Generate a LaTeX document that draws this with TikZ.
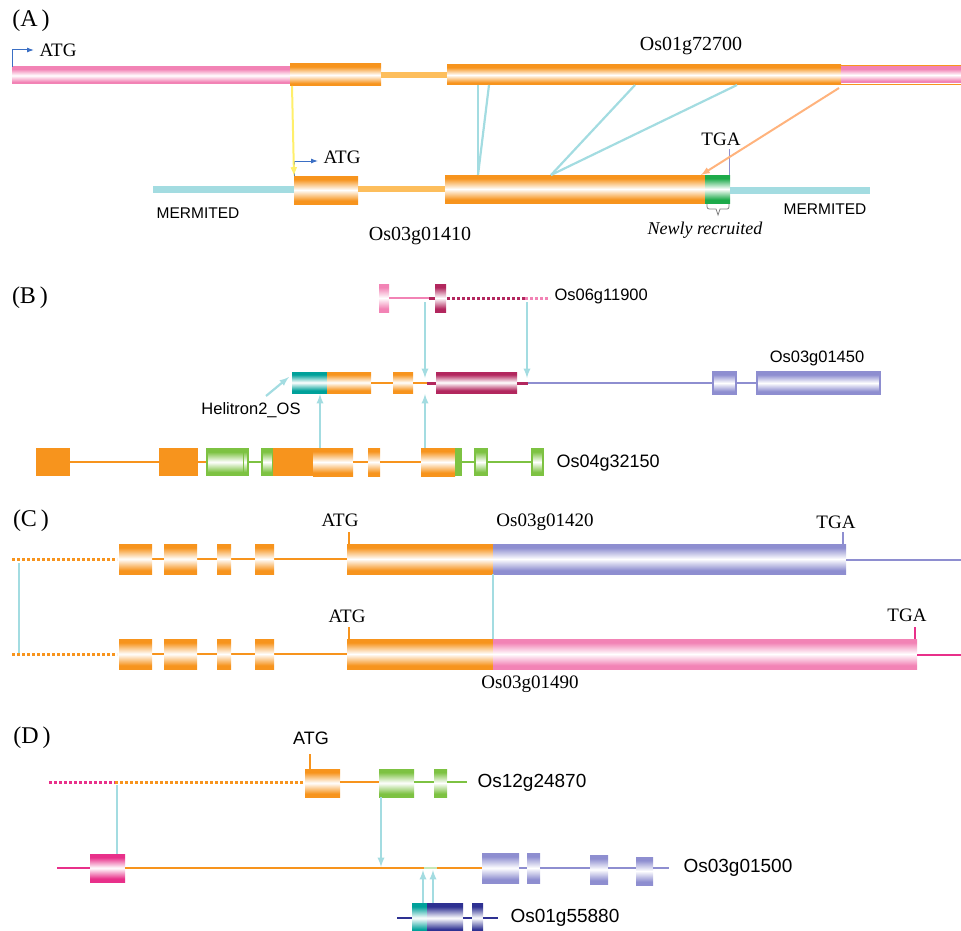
\documentclass[tikz,border=0pt]{standalone}
\usepackage{fontspec}
\setmainfont{Liberation Serif}
\setsansfont{Liberation Sans}
\usetikzlibrary{arrows.meta}

\definecolor{orng}{HTML}{F7941D}
\definecolor{lorng}{HTML}{FDBE5C}
\definecolor{porng}{HTML}{FFB37D}
\definecolor{pnk}{HTML}{F283B5}
\definecolor{mgnt}{HTML}{E8308A}
\definecolor{dmag}{HTML}{B2275E}
\definecolor{cyn}{HTML}{A3DCE1}
\definecolor{lav}{HTML}{8E8ED0}
\definecolor{teal}{HTML}{00A19A}
\definecolor{grn}{HTML}{7DC242}
\definecolor{lgrn}{HTML}{C6E8B8}
\definecolor{dgrn}{HTML}{1DAA4A}
\definecolor{dblu}{HTML}{2E3192}
\definecolor{atgblu}{HTML}{3B6FC4}
\definecolor{yel}{HTML}{FFEF6B}
\colorlet{exoncol}{orng}
\pgfdeclareverticalshading[exoncol]{exonsh}{100bp}{color(0bp)=(exoncol); color(31bp)=(exoncol);
    color(50bp)=(white); color(69bp)=(exoncol); color(100bp)=(exoncol)}

\begin{document}
\begin{tikzpicture}[x=1pt,y=-1pt,
    exon/.code={\colorlet{exoncol}{#1}\pgfkeysalso{shade, shading=exonsh}},
    bexon/.style={exon=#1, draw=#1, line width=1.5pt},
    link/.style={cyn, line width=2.2pt},
    atg/.style={atgblu, line width=1pt, -{Latex[length=7pt,width=5pt]}},
    serif/.style={font=\fontsize{#1}{#1}\selectfont}, serif/.default=19,
    sans/.style={font=\sffamily\fontsize{#1}{#1}\selectfont}, sans/.default=16.5,
    panel/.style={font=\fontsize{24}{26}\selectfont}]
    \useasboundingbox (0,0) rectangle (961,931);

    % (A)
    \node[panel] (pA) at (31,21) {(A\,)};
    \fill[exon=pnk] (12,67) rectangle (290,84);
    \fill[exon=orng] (290,64) rectangle (381,86);
    \draw[lorng, line width=6pt] (381,75) -- (447,75);
    \fill[exon=orng] (447,65) rectangle (841,85);
    \fill[exon=pnk] (841,67) rectangle (961,83);
    \draw[orng, line width=1.5pt] (841,65.5) -- (961,65.5) (841,84.5) -- (961,84.5);
    \draw[atg] (12,67) -- (12,50) -- (34,50);
    \node[serif, anchor=west] (atgA1) at (36,50) {ATG};
    \node[serif=20] (gA1) at (691,46) {Os01g72700};

    \draw[cyn, line width=7pt] (153,189.5) -- (294,189.5);
    \fill[exon=orng] (294,176) rectangle (358,204);
    \draw[lorng, line width=6pt] (358,189) -- (445,189);
    \fill[exon=orng] (445,175) rectangle (705,203);
    \fill[exon=dgrn] (705,175) rectangle (730,203);
    \draw[cyn, line width=7pt] (730,190) -- (870,190);
    \draw[atg] (294,176) -- (294,161) -- (318,161);
    \node[serif, anchor=west] (atgA2) at (320,157) {ATG};
    \draw[lav, line width=1pt] (729,175) -- (729,149);
    \node[serif] (tgaA) at (721,139) {TGA};
    \node[sans=15.5] (merL) at (198,213) {MERMITED};
    \node[sans=15.5] (merR) at (825,209) {MERMITED};
    \node[serif=20] (gA2) at (420,236) {Os03g01410};
    \draw[gray, line width=0.8pt] (707,204) .. controls (707,209) .. (712,209) -- (716,209)
        -- (718,215) -- (720,209) -- (725,209) .. controls (729,209) .. (729,204);
    \node[font=\itshape\fontsize{18}{18}\selectfont] (newA) at (705,230) {Newly recruited};

    \coordinate (yT) at (292,86);
    \coordinate (yB) at (294,176);
    \draw[yel, line width=2pt, -latex] (yT) -- (yB);
    \foreach \a/\b in {478/478,489/478,635/551,737/551}{
        \coordinate (cT\a) at (\a,85);
        \coordinate (cB\a) at (\b,175);
        \draw[link] (cT\a) -- (cB\a);
    }
    \coordinate (oT) at (839,88);
    \coordinate (oB) at (701,175);
    \draw[porng, line width=2pt, -latex] (oT) -- (oB);

    % (B)
    \node[panel] (pB) at (30,298) {(B\,)};
    \fill[exon=pnk] (379,284) rectangle (389,312);
    \draw[pnk, line width=2.5pt] (389,298) -- (429,298);
    \draw[dmag, line width=3pt] (429,298) -- (436,298);
    \fill[exon=dmag] (435,284) rectangle (446,312);
    \draw[dmag, line width=3pt, dotted] (447,298) -- (525,298);
    \draw[pnk, line width=3pt, dotted] (525,298) -- (550,298);
    \node[sans, anchor=west] (gB1) at (551,296) {Os06g11900};

    \fill[exon=teal] (292,372) rectangle (327,393);
    \fill[exon=orng] (327,372) rectangle (371,393);
    \draw[orng, line width=2.5pt] (371,383) -- (393,383);
    \fill[exon=orng] (393,372) rectangle (413,393);
    \draw[orng, line width=2.5pt] (413,383) -- (427,383);
    \draw[dmag, line width=3pt] (427,383) -- (436,383);
    \fill[exon=dmag] (436,372) rectangle (517,393);
    \draw[dmag, line width=3pt] (517,383) -- (528,383);
    \draw[lav, line width=2.5pt] (528,383) -- (713,383);
    \draw[bexon=lav] (713,372) rectangle (736,394);
    \draw[lav, line width=2.5pt] (736,383) -- (757,383);
    \draw[bexon=lav] (757,372) rectangle (880,394);
    \node[sans] (gB2) at (817,358) {Os03g01450};
    \node[sans] (hel) at (251,410) {Helitron2\_OS};
    \coordinate (hT) at (266,396);
    \coordinate (hH) at (289,377);
    \draw[link, -latex] (hT) -- (hH);

    \fill[orng] (36,448) rectangle (70,476);
    \draw[orng, line width=2.5pt] (70,462) -- (159,462);
    \fill[orng] (159,448) rectangle (198,476);
    \draw[orng, line width=2.5pt] (198,462) -- (207,462);
    \draw[bexon=grn] (207,448.7) rectangle (248,475.3);
    \draw[grn, line width=1pt] (243,448) -- (243,476);
    \draw[grn, line width=2.5pt] (248,462) -- (262,462);
    \draw[bexon=grn] (262,448.7) rectangle (273,475.3);
    \fill[orng] (273,448) rectangle (313,476);
    \fill[exon=orng] (313,448) rectangle (353,476);
    \draw[orng, line width=2.5pt] (353,462) -- (368,462);
    \fill[exon=orng] (368,448) rectangle (380,476);
    \draw[orng, line width=2.5pt] (380,462) -- (421,462);
    \fill[exon=orng] (421,448) rectangle (455,476);
    \fill[grn] (455,448) rectangle (462,476);
    \draw[grn, line width=2.5pt] (462,462) -- (475,462);
    \draw[bexon=grn] (475,448.7) rectangle (487,475.3);
    \draw[grn, line width=2.5pt] (487,462) -- (532,462);
    \draw[bexon=grn] (532,448.7) rectangle (543,475.3);
    \node[sans=18, anchor=west] (gB3) at (553,463) {Os04g32150};

    \foreach \x in {425,527}{
        \coordinate (dT\x) at (\x,302);
        \coordinate (dB\x) at (\x,378);
        \draw[link, -latex] (dT\x) -- (dB\x);
    }
    \foreach \x in {320,425}{
        \coordinate (uB\x) at (\x,448);
        \coordinate (uT\x) at (\x,394);
        \draw[link, -latex] (uB\x) -- (uT\x);
    }

    % (C)
    \node[panel] (pC) at (31,521) {(C\,)};
    \foreach \y in {559,654}{
        \draw[orng, line width=3pt, dotted] (12,\y) -- (117,\y);
        \draw[orng, line width=2.5pt] (152,\y) -- (347,\y);
        \foreach \a/\b in {119/152,164/197,217/231,255/274}
            \fill[exon=orng] (\a,\y-15) rectangle (\b,\y+15);
        \fill[exon=orng] (347,\y-15) rectangle (493,\y+15);
    }
    \fill[exon=lav] (493,544) rectangle (846,574);
    \draw[lav, line width=2.5pt] (846,560) -- (961,560);
    \draw[orng, line width=1.5pt] (349,544) -- (349,532);
    \node[serif] (atgC1) at (340,520) {ATG};
    \draw[lav, line width=1.5pt] (843,544) -- (843,532);
    \node[serif] (tgaC1) at (836,522) {TGA};
    \node[serif] (gC1) at (545,522) {Os03g01420};

    \fill[exon=pnk] (493,639) rectangle (917,669);
    \draw[mgnt, line width=2.5pt] (917,655) -- (961,655);
    \draw[orng, line width=1.5pt] (349,639) -- (349,627);
    \node[serif] (atgC2) at (347,616) {ATG};
    \draw[mgnt, line width=1.5pt] (915,639) -- (915,627);
    \node[serif] (tgaC2) at (907,615) {TGA};
    \node[serif] (gC2) at (530,684) {Os03g01490};

    \coordinate (eT) at (19,563);
    \coordinate (eB) at (19,653);
    \draw[link] (eT) -- (eB);
    \coordinate (fT) at (493,574);
    \coordinate (fB) at (493,639);
    \draw[link] (fT) -- (fB);

    % (D)
    \node[panel] (pD) at (32,738) {(D\,)};
    \draw[mgnt, line width=3pt, dotted] (49,782) -- (115,782);
    \draw[orng, line width=3pt, dotted] (115,782) -- (303,782);
    \fill[exon=orng] (305,769) rectangle (340,797);
    \draw[orng, line width=2.5pt] (340,782) -- (379,782);
    \fill[exon=grn] (379,769) rectangle (414,797);
    \draw[grn, line width=2.5pt] (414,782) -- (434,782);
    \fill[exon=grn] (434,769) rectangle (447,797);
    \draw[grn, line width=2.5pt] (447,782) -- (467,782);
    \node[sans=19, anchor=west] (gD1) at (474,783) {Os12g24870};
    \draw[orng, line width=1.5pt] (310,769) -- (310,754);
    \node[sans=18] (atgD) at (311,738) {ATG};

    \draw[mgnt, line width=2.5pt] (57,868) -- (90,868);
    \fill[exon=mgnt] (90,854) rectangle (125,882);
    \draw[orng, line width=2.5pt] (125,868) -- (482,868);
    \draw[lgrn, line width=2.5pt] (424,868) -- (437,868);
    \fill[exon=lav] (482,853) rectangle (519,883);
    \draw[lav, line width=2.5pt] (519,868) -- (527,868);
    \fill[exon=lav] (527,853) rectangle (540,883);
    \draw[lav, line width=2.5pt] (540,868) -- (590,868);
    \fill[exon=lav] (590,855) rectangle (608,884);
    \draw[lav, line width=2.5pt] (608,868) -- (636,868);
    \fill[exon=lav] (636,857) rectangle (653,885);
    \draw[lav, line width=2.5pt] (653,868) -- (669,868);
    \node[sans=19, anchor=west] (gD2) at (680,868) {Os03g01500};

    \draw[dblu, line width=2.5pt] (397,918) -- (412,918);
    \fill[exon=teal] (412,903) rectangle (427,933);
    \fill[exon=dblu] (427,903) rectangle (463,933);
    \draw[dblu, line width=2.5pt] (463,918) -- (472,918);
    \fill[exon=dblu] (472,903) rectangle (483,933);
    \draw[dblu, line width=2.5pt] (483,918) -- (498,918);
    \node[sans=19, anchor=west] (gD3) at (507,918) {Os01g55880};

    \coordinate (gT) at (117,785);
    \coordinate (gB) at (117,854);
    \draw[link] (gT) -- (gB);
    \coordinate (kT) at (381,797);
    \coordinate (kB) at (381,867);
    \draw[link, -latex] (kT) -- (kB);
    \foreach \x in {423,433}{
        \coordinate (mB\x) at (\x,903);
        \coordinate (mT\x) at (\x,870);
        \draw[link, -latex] (mB\x) -- (mT\x);
    }
\end{tikzpicture}
\end{document}
